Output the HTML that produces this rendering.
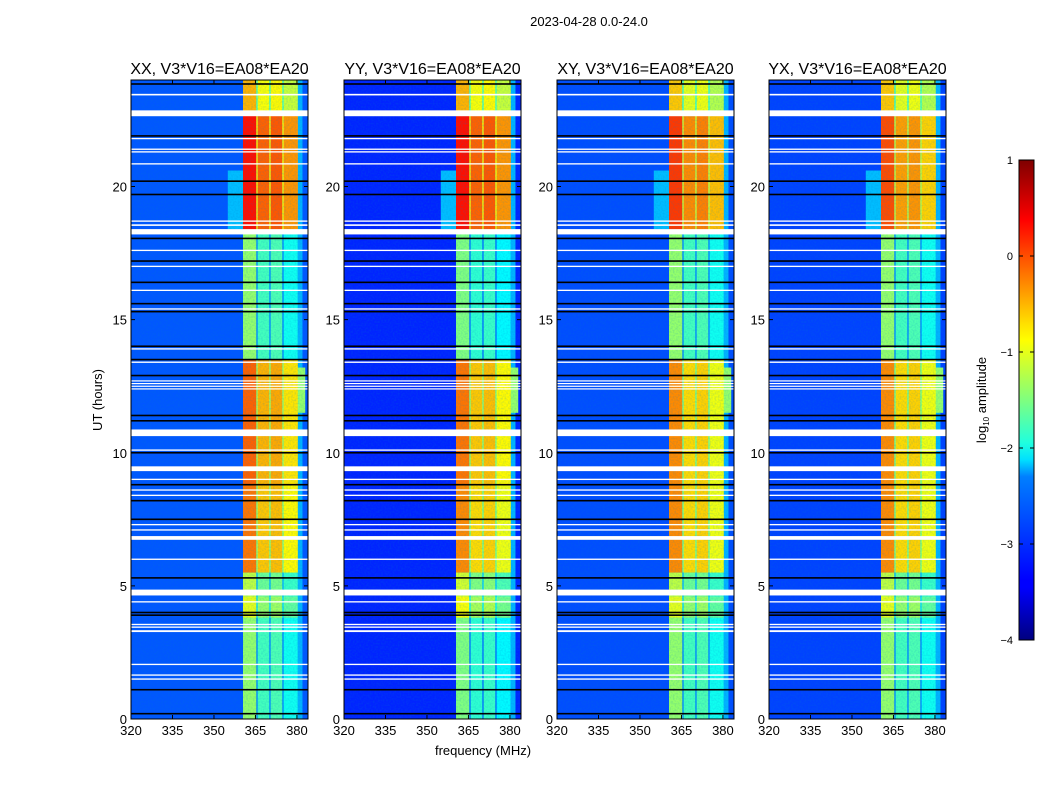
<!DOCTYPE html>
<html><head><meta charset="utf-8"><style>
body{margin:0;background:#fff;}
svg text{font-family:"Liberation Sans",sans-serif;fill:#000;}
</style></head><body>
<svg id="fig" width="1050" height="800" xmlns="http://www.w3.org/2000/svg">
<defs>
<linearGradient id="jet" x1="0" y1="1" x2="0" y2="0">
<stop offset="0" stop-color="#00007f"/><stop offset="0.11" stop-color="#0000ff"/><stop offset="0.125" stop-color="#0000ff"/>
<stop offset="0.34" stop-color="#007fff"/><stop offset="0.375" stop-color="#00dfff"/><stop offset="0.41" stop-color="#1fffdf"/>
<stop offset="0.5" stop-color="#7fff7f"/><stop offset="0.625" stop-color="#ffff00"/><stop offset="0.66" stop-color="#ffdf00"/>
<stop offset="0.875" stop-color="#ff0000"/><stop offset="1" stop-color="#7f0000"/>
</linearGradient>
<filter id="noise" x="0" y="0" width="1" height="1"><feTurbulence type="fractalNoise" baseFrequency="0.6" numOctaves="1" seed="3"/><feColorMatrix type="matrix" values="0 0 0 0 0  0 0 0 0 0.2  0 0 0 0 0.6  0 0 0 0.9 -0.35"/><feComposite in2="SourceGraphic" operator="in"/></filter>
</defs>
<text x="589" y="26" font-size="13" text-anchor="middle">2023-04-28 0.0-24.0</text>
<g id="panels"></g>
<text x="483" y="755" font-size="13" text-anchor="middle">frequency (MHz)</text>
<text transform="translate(102,400) rotate(-90)" font-size="13" text-anchor="middle">UT (hours)</text>
<g>
<rect x="1019" y="160" width="15" height="480" fill="url(#jet)" stroke="#000" stroke-width="1"/>
<g id="cbticks"></g>
<text transform="translate(986,400) rotate(-90)" font-size="13" text-anchor="middle">log<tspan font-size="8" dy="3">10</tspan><tspan dy="-3"> amplitude</tspan></text>
</g>
</svg>
<script>
const panelTitles=["XX, V3*V16=EA08*EA20","YY, V3*V16=EA08*EA20","XY, V3*V16=EA08*EA20","YX, V3*V16=EA08*EA20"];
const panelLeft=[131,344,557,769];
const freqTicks=[320,335,350,365,380];
const timeTicks=[0,5,10,15,20];
const cbTicks=[1,0,-1,-2,-3,-4];
const bgLevel=[-2.95,-3.2,-3.0,-3.05];
// band segments: [tStart,tEnd,level]
const bandXX=[[0,3.8,-1.8],[3.8,4.6,-1.4],[4.6,5.5,-1.6],[5.5,8.8,-0.6],[8.8,13.5,-0.5],[13.5,18.3,-1.8],[18.3,22.8,-0.1],[22.8,24,-0.9]];
const bandYY=[[0,3.8,-1.9],[3.8,4.6,-1.3],[4.6,5.5,-1.5],[5.5,8.8,-0.7],[8.8,13.5,-0.6],[13.5,18.3,-1.9],[18.3,22.8,-0.1],[22.8,24,-0.9]];
const bandXY=[[0,3.8,-1.8],[3.8,4.6,-1.4],[4.6,5.5,-1.6],[5.5,8.8,-0.7],[8.8,13.5,-0.7],[13.5,18.3,-1.8],[18.3,22.8,-0.3],[22.8,24,-1.0]];
const bandYX=[[0,3.8,-1.8],[3.8,4.6,-1.4],[4.6,5.5,-1.6],[5.5,8.8,-0.7],[8.8,13.5,-0.7],[13.5,18.3,-1.8],[18.3,22.8,-0.4],[22.8,24,-1.0]];
const bands=[bandXX,bandYY,bandXY,bandYX];
// sub-columns of band: [fStart,fEnd,offset]
const subCols=[[360.5,365.3,0.4],[365.8,370.0,0.0],[370.5,374.7,0.05],[375.2,380.3,-0.25]];
// glow regions: [tStart,tEnd,fStart,fEnd,level]
const glows=[[18.4,20.6,355,360.5,-2.45],[0,24,380.3,382,-2.5],[11.5,13.2,375,383,-1.4]];
const whiteRows=[[23.45,0.06],[22.75,0.22],[21.8,0.05],[21.4,0.05],[21.3,0.05],[20.85,0.05],[18.7,0.05],[18.55,0.06],[18.3,0.2],[17.6,0.05],[17.0,0.05],[16.1,0.05],[15.4,0.05],[13.9,0.05],[13.4,0.05],[12.7,0.04],[12.6,0.04],[12.5,0.04],[12.4,0.04],[10.75,0.25],[10.1,0.05],[9.4,0.18],[9.0,0.05],[8.6,0.05],[8.4,0.05],[7.3,0.05],[7.1,0.05],[6.8,0.14],[6.0,0.05],[4.75,0.22],[4.4,0.05],[3.55,0.05],[3.45,0.05],[3.3,0.07],[2.05,0.05],[1.65,0.05],[1.5,0.05]];
const blackRows=[23.85,21.9,20.2,19.7,18.05,17.2,16.4,15.6,15.3,14.0,13.5,12.9,11.4,11.2,10.0,8.8,8.2,7.5,5.3,4.0,3.9,1.1,0.2];

const fMin=320,fMax=384,tMin=0,tMax=24,yTop=80,yBot=719,pw=177;
function yOf(t){return yBot-(t-tMin)/(tMax-tMin)*(yBot-yTop);}
function xOf(p,f){return panelLeft[p]+(f-fMin)/(fMax-fMin)*pw;}
function jet(v){let x=(v+4)/5;x=Math.max(0,Math.min(1,x));
 const c=a=>Math.round(255*Math.max(0,Math.min(1,a)));
 return `rgb(${c(1.5-Math.abs(4*x-3))},${c(1.5-Math.abs(4*x-2))},${c(1.5-Math.abs(4*x-1))})`;}
const NS="http://www.w3.org/2000/svg";
function mk(tag,attrs,parent){const e=document.createElementNS(NS,tag);for(const k in attrs)e.setAttribute(k,attrs[k]);parent.appendChild(e);return e;}
const root=document.getElementById('panels');
for(let p=0;p<4;p++){
 const g=mk('g',{},root);
 
 
 const L=panelLeft[p];
 const bg=mk('rect',{x:L,y:yTop,width:pw,height:yBot-yTop,fill:jet(bgLevel[p])},g);
 
 
 for(const gl of glows){
  const r=mk('rect',{x:xOf(p,gl[2]),y:yOf(gl[1]),width:xOf(p,gl[3])-xOf(p,gl[2]),height:yOf(gl[0])-yOf(gl[1]),fill:jet(gl[4])},g);
  
  
 }
 for(const s of bands[p]){
  const gap=mk('rect',{x:xOf(p,subCols[0][0]),y:yOf(s[1]),width:xOf(p,subCols[3][1])-xOf(p,subCols[0][0]),height:yOf(s[0])-yOf(s[1]),fill:jet(s[2]-0.9)},g);
  
  
  for(const c of subCols){
   const r=mk('rect',{x:xOf(p,c[0]),y:yOf(s[1]),width:xOf(p,c[1])-xOf(p,c[0]),height:yOf(s[0])-yOf(s[1]),fill:jet(s[2]+c[2])},g);
   
   
  }
 }
 const nz=mk('rect',{x:L,y:yTop,width:pw,height:yBot-yTop,fill:'#fff',filter:'url(#noise)',opacity:0.5},g);
 
 
 for(const w of whiteRows){
  const r=mk('rect',{x:L,y:yOf(w[0]+w[1]/2),width:pw,height:Math.max(1.2,yOf(w[0]-w[1]/2)-yOf(w[0]+w[1]/2)),fill:'#fff'},g);
  
  
 }
 for(const b of blackRows){
  const r=mk('rect',{x:L,y:yOf(b)-0.8,width:pw,height:1.6,fill:'#000'},g);
  
  
 }
 const fr=mk('rect',{x:L,y:yTop,width:pw,height:yBot-yTop,fill:'none',stroke:'#000','stroke-width':1},g);
 
 
 const t=mk('text',{x:L+pw/2,y:74,'font-size':16,'text-anchor':'middle'},g);
 t.textContent=panelTitles[p];
 
 
 for(const f of freqTicks){
  const x=xOf(p,f);
  mk('line',{x1:x,x2:x,y1:yBot,y2:yBot-4,stroke:'#000'},g);
  mk('line',{x1:x,x2:x,y1:yTop,y2:yTop+4,stroke:'#000'},g);
  const tx=mk('text',{x:x,y:yBot+16,'font-size':13,'text-anchor':'middle'},g);
  tx.textContent=f;
  
  
 }
 for(const tt of timeTicks){
  const y=yOf(tt);
  mk('line',{x1:L,x2:L+4,y1:y,y2:y,stroke:'#000'},g);
  mk('line',{x1:L+pw,x2:L+pw-4,y1:y,y2:y,stroke:'#000'},g);
  const tx=mk('text',{x:L-4,y:y+5,'font-size':13,'text-anchor':'end'},g);
  tx.textContent=tt;
  
  
 }
}
const cb=document.getElementById('cbticks');
for(const v of cbTicks){
 const y=640-(v+4)/5*480;
 mk('line',{x1:1019,x2:1023,y1:y,y2:y,stroke:'#000'},cb);
 mk('line',{x1:1030,x2:1034,y1:y,y2:y,stroke:'#000'},cb);
 const tx=mk('text',{x:1013,y:y+4,'font-size':11,'text-anchor':'end'},cb);
 tx.textContent=v<0?'\u2212'+(-v):v;
 
 
}
</script>
</body></html>
